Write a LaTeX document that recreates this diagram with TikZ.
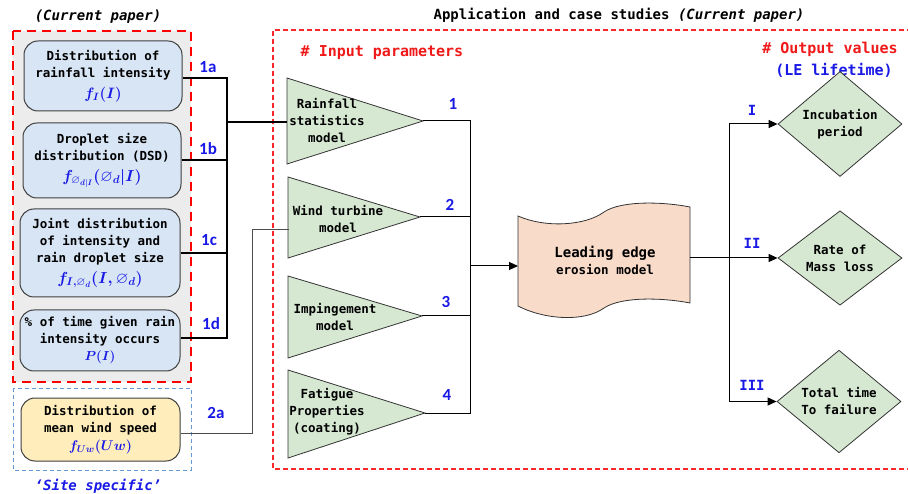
\RequirePackage{fix-cm}
\documentclass[tikz,border=0pt]{standalone}
\usepackage{fontspec}
\usepackage{amsmath, amssymb, graphicx}
\setmonofont{DejaVu Sans Mono}
\setsansfont{Carlito}
\usetikzlibrary{arrows.meta, shapes.geometric}

\definecolor{boxblue}{RGB}{215,229,244}
\definecolor{boxyellow}{RGB}{255,238,188}
\definecolor{trigreen}{RGB}{214,232,210}
\definecolor{tapepeach}{RGB}{248,219,200}
\definecolor{greybg}{RGB}{236,236,236}
\definecolor{lblblue}{RGB}{25,25,230}
\definecolor{hdred}{RGB}{240,25,25}
\definecolor{lightred}{RGB}{255,40,40}
\definecolor{dashblue}{RGB}{100,155,215}

\newcommand{\distf}[2][1]{\scalebox{#1}{\color{lblblue}\fontsize{16}{16}\selectfont\boldmath$#2$}}

\begin{document}
\begin{tikzpicture}[x=1pt, y=-1pt,
    every node/.style={font=\ttfamily\bfseries\fontsize{12.5}{17}\selectfont, align=center},
    inbox/.style={draw=black!75, fill=boxblue, rounded corners=14pt, inner sep=0pt, line width=1pt},
    windbox/.style={inbox, fill=boxyellow},
    lbl/.style={text=lblblue, font=\sffamily\bfseries\fontsize{17}{17}\selectfont},
    outlbl/.style={text=lblblue, font=\ttfamily\bfseries\fontsize{14}{14}\selectfont},
    tri/.style={draw=black!80, fill=trigreen, line width=0.8pt},
    outdia/.style={diamond, draw=black!80, fill=trigreen, minimum width=124pt, minimum height=73pt, inner sep=0pt, line width=0.8pt},
    link/.style={line width=1pt},
    feed/.style={line width=2pt},
    arr/.style={link, -{Triangle[length=9pt, width=8pt]}}]
    \useasboundingbox (0,0) rectangle (908,494);

    % frames
    \draw [lightred, line width=1.2pt, dash pattern=on 5pt off 3pt] (912,30) -| (273,469) -- (912,469);
    \draw [red, fill=greybg, line width=2.5pt, dash pattern=on 9pt off 6pt] (13,31) rectangle (191,382);
    \draw [dashblue, line width=1pt, dash pattern=on 4pt off 3pt] (13,388) rectangle (191,470);

    % titles
    \node (curtitle) at (98,17) {\fontsize{14}{14}\selectfont\itshape (Current paper)};
    \node (apptitle) at (619,15) {\fontsize{14}{14}\selectfont Application and case studies \textit{(Current paper)}};
    \node (site) at (98,486) [text=lblblue] {\fontsize{14}{14}\selectfont\itshape ‘Site specific’};
    \node (inhead) at (382,53) [text=hdred] {\fontsize{15}{15}\selectfont \# Input parameters};
    \node (outhead) at (830,49) [text=hdred] {\fontsize{15}{15}\selectfont \# Output values};
    \node (lehead) at (834,70) [text=lblblue] {\fontsize{15}{15}\selectfont (LE lifetime)};

    % distributions
    \node (d1a) at (103,76) [inbox, minimum width=158pt, minimum height=70pt] {Distribution of\\rainfall intensity\\[4pt]\distf[0.94]{f_I(I)}};
    \node (d1b) at (102,160.5) [inbox, minimum width=158pt, minimum height=75pt] {Droplet size\\distribution (DSD)\\[4pt]\distf{f_{\varnothing_{d|I}}(\varnothing_d|I)}};
    \node (d1c) at (100,253) [inbox, minimum width=160pt, minimum height=88pt] {Joint distribution\\of intensity and\\rain droplet size\\[4pt]\distf{f_{I,\varnothing_d}(I,\varnothing_d)}};
    \node (d1d) at (100,340.5) [inbox, minimum width=160pt, minimum height=61pt] {\% of time given rain\\intensity occurs\\\distf[0.82]{P(I)}};
    \node (dwind) at (100.5,429.5) [windbox, minimum width=159pt, minimum height=63pt] {Distribution of\\mean wind speed\\[1pt]\distf[0.88]{f_{Uw}(Uw)}};

    \node (l1a) at (208,67) [lbl] {1a};
    \node (l1b) at (208,149) [lbl] {1b};
    \node (l1c) at (209,240) [lbl] {1c};
    \node (l1d) at (211,324) [lbl] {1d};
    \node (l2a) at (216,413) [lbl] {2a};

    % input models
    \draw [tri] (287,78) -- (423,121) coordinate (rain tip) -- (287,164) -- cycle;
    \draw [tri] (288,177) -- (420,217) coordinate (turb tip) -- (288,258) -- cycle;
    \draw [tri] (288,276) -- (422,316) coordinate (imp tip) -- (288,358) -- cycle;
    \draw [tri] (288,370) -- (425,413) coordinate (fat tip) -- (288,458) -- cycle;
    \node (rain) at (327,121) {Rainfall\\statistics\\model};
    \node (turb) at (338,219) {Wind turbine\\model};
    \node (imp) at (335,317) {Impingement\\model};
    \node (fat) at (327,412) {Fatigue\\Properties\\(coating)};
    \coordinate (rain in) at (287,122);
    \coordinate (turb in) at (289,230);

    \node (l1) at (453,104) [lbl] {1};
    \node (l2) at (450,205) [lbl] {2};
    \node (l3) at (446,302) [lbl] {3};
    \node (l4) at (447,395) [lbl] {4};

    % feeds into the models
    \coordinate (rbus) at (227,122);
    \draw [feed] (d1a.east |- 0,78) -| (rbus);
    \draw [feed] (d1d.east |- 0,338) -| (rbus);
    \draw [feed] (d1b.east) -- (d1b.east -| rbus);
    \draw [feed] (d1c.east) -- (d1c.east -| rbus);
    \draw [feed] (rbus) -- (rain in);
    \draw [link, black!70] (dwind.east |- 0,433) -| (252,230) -- (turb in);

    % erosion model
    \draw [draw=black!80, fill=tapepeach, line width=0.8pt]
        (518,216) .. controls (545,228) and (585,226) .. (604,212)
        .. controls (622,200) and (665,202) .. (690,207) -- (690,303)
        .. controls (665,298) and (622,296) .. (604,308)
        .. controls (585,322) and (545,320) .. (518,306) -- cycle;
    \node (lee) at (605,260) {\fontsize{14}{19}\selectfont Leading edge\\erosion model};
    \coordinate (lee in) at (518,266);
    \coordinate (lee out) at (690,258);

    \coordinate (inbus) at (470,266);
    \draw [link] (rain tip) -| (inbus);
    \draw [link] (fat tip) -| (inbus);
    \draw [link] (turb tip) -- (turb tip -| inbus);
    \draw [link] (imp tip) -- (imp tip -| inbus);
    \draw [arr] (inbus) -- (lee in);

    % output values
    \node (inc) at (840,124) [outdia] {Incubation\\period};
    \node (mass) at (840,258) [outdia] {Rate of\\Mass loss};
    \node (tot) at (839,401.5) [outdia] {Total time\\To failure};

    \coordinate (outbus) at (729,258);
    \draw [arr] (lee out) -- (mass.west);
    \draw [arr] (outbus) |- (inc.west);
    \draw [arr] (outbus) |- (tot.west);

    \node (lI) at (752,110) [outlbl] {I};
    \node (lII) at (752,243) [outlbl] {II};
    \node (lIII) at (752,385) [outlbl] {III};
\end{tikzpicture}
\end{document}
